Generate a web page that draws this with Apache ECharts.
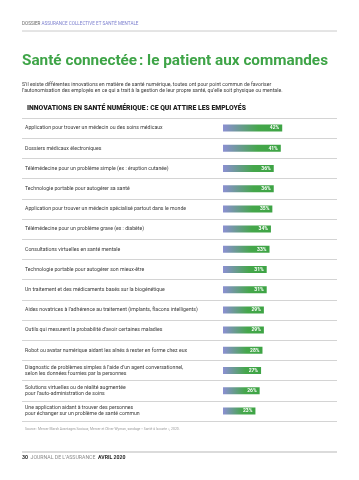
<!DOCTYPE html>
<html><head><meta charset="utf-8">
<script src="https://cdn.jsdelivr.net/npm/echarts@6/dist/echarts.min.js"></script>
<style>html,body{margin:0;padding:0;background:#fff}#c{width:359px;height:480px}</style>
</head><body><div id="c"></div>
<script>
const categories = [
  "Application pour trouver un médecin ou des soins médicaux",
  "Dossiers médicaux électroniques",
  "Télémédecine pour un problème simple (ex : éruption cutanée)",
  "Technologie portable pour autogérer sa santé",
  "Application pour trouver un médecin spécialisé partout dans le monde",
  "Télémédecine pour un problème grave (ex : diabète)",
  "Consultations virtuelles en santé mentale",
  "Technologie portable pour autogérer son mieux-être",
  "Un traitement et des médicaments basés sur la biogénétique",
  "Aides novatrices à l’adhérence au traitement (implants, flacons intelligents)",
  "Outils qui mesurent la probabilité d’avoir certaines maladies",
  "Robot ou avatar numérique aidant les aînés à rester en forme chez eux",
  "Diagnostic de problèmes simples à l’aide d’un agent conversationnel,\nselon les données fournies par la personnes",
  "Solutions virtuelles ou de réalité augmentée\npour l’auto-administration de soins",
  "Une application aidant à trouver des personnes\npour échanger sur un problème de santé commun"
];
const values = [42, 41, 36, 36, 35, 34, 33, 31, 31, 29, 29, 28, 27, 26, 23];

const FONT = 'Roboto';
const chart = echarts.init(document.getElementById('c'));
chart.setOption({
  animation: false,
  grid: [
    {left: 22, right: 22, top: 118, height: 303},
    {left: 223, width: 70.5, top: 118, height: 303}
  ],
  xAxis: [
    {gridIndex: 0, type: 'value', show: false, min: 0, max: 1},
    {gridIndex: 1, type: 'value', show: false, min: 0, max: 50}
  ],
  yAxis: [
    {gridIndex: 0, type: 'category', inverse: true, data: categories,
     axisLine: {show: false}, axisTick: {show: false},
     splitLine: {show: true, lineStyle: {color: '#d4d4d4', width: 1}},
     axisLabel: {inside: true, margin: 3, color: '#3a3a3a', fontFamily: FONT, fontSize: 5.2, lineHeight: 6.4, align: 'left'}},
    {gridIndex: 1, type: 'category', inverse: true, data: categories, show: false}
  ],
  series: [{
    type: 'bar', xAxisIndex: 1, yAxisIndex: 1, data: values, barWidth: 7,
    itemStyle: {color: new echarts.graphic.LinearGradient(0, 0, 1, 0, [
      {offset: 0, color: '#8c8fd3'},
      {offset: 0.6, color: '#45a74b'},
      {offset: 1, color: '#3ea445'}
    ])},
    label: {show: true, position: 'insideRight', distance: 3, formatter: '{c}%',
      color: '#fff', fontFamily: FONT, fontWeight: 'bold', fontSize: 5}
  }],
  graphic: [
    {type: 'text', left: 22, top: 21, style: {
      text: '{a|DOSSIER }{b|ASSURANCE COLLECTIVE ET SANTÉ MENTALE}',
      rich: {a: {fill: '#666', fontFamily: FONT, fontSize: 4.6},
             b: {fill: '#7d80cf', fontFamily: FONT, fontSize: 4.6}}}},
    {type: 'line', shape: {x1: 22, y1: 31, x2: 337, y2: 31}, style: {stroke: '#bdbdbd', lineWidth: 0.8}},
    {type: 'text', left: 22, top: 54, style: {text: 'Santé connectée\u202f: le patient aux commandes',
      fill: '#3ea447', fontFamily: FONT, fontWeight: 'bold', fontSize: 15.3}},
    {type: 'text', left: 22, top: 81, style: {
      text: 'S’il existe différentes innovations en matière de santé numérique, toutes ont pour point commun de favoriser\nl’autonomisation des employés en ce qui a trait à la gestion de leur propre santé, qu’elle soit physique ou mentale.',
      fill: '#3a3a3a', fontFamily: FONT, fontSize: 5.2, lineHeight: 6.6}},
    {type: 'text', left: 27, top: 104.5, style: {text: 'INNOVATIONS EN SANTÉ NUMÉRIQUE\u202f: CE QUI ATTIRE LES EMPLOYÉS',
      fill: '#222', fontFamily: FONT, fontWeight: 900, fontSize: 6.8}},
    {type: 'text', left: 25, top: 427.5, style: {
      text: 'Source : Mercer Marsh Avantages Sociaux, Mercer et Oliver Wyman, sondage « Santé à la carte », 2020.',
      fill: '#9a9a9a', fontFamily: FONT, fontSize: 3.4}},
    {type: 'line', shape: {x1: 22, y1: 452, x2: 337, y2: 452}, style: {stroke: '#cfcfcf', lineWidth: 1.3}},
    {type: 'text', left: 22, top: 455.5, style: {
      text: '{a|30 }{b| JOURNAL DE L’ASSURANCE }{a| AVRIL 2020}',
      rich: {a: {fill: '#2a2a2a', fontFamily: FONT, fontWeight: 'bold', fontSize: 5.2},
             b: {fill: '#8a8a8a', fontFamily: FONT, fontSize: 5.2}}}}
  ]
});
</script></body></html>
